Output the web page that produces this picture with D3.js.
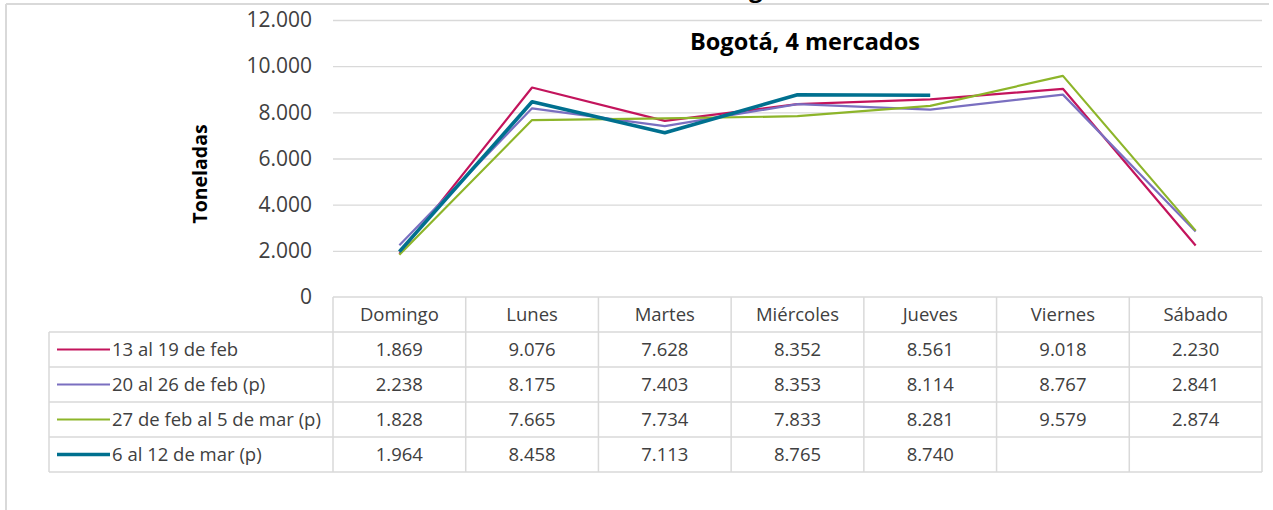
<!DOCTYPE html>
<html>
<head>
<meta charset="utf-8">
<script src="https://cdn.jsdelivr.net/npm/d3@7"></script>
<style>
  html, body { margin: 0; padding: 0; background: #fff; }
  svg { display: block; }
  text { font-family: "Open Sans", "Noto Sans", sans-serif; }
</style>
</head>
<body>
<svg id="chart" width="1273" height="510"></svg>
<script>
// ---- data ----
const categories = ["Domingo", "Lunes", "Martes", "Miércoles", "Jueves", "Viernes", "Sábado"];
const seriesNames = ["13 al 19 de feb", "20 al 26 de feb (p)", "27 de feb al 5 de mar (p)", "6 al 12 de mar (p)"];
const week1 = [1869, 9076, 7628, 8352, 8561, 9018, 2230];
const week2 = [2238, 8175, 7403, 8353, 8114, 8767, 2841];
const week3 = [1828, 7665, 7734, 7833, 8281, 9579, 2874];
const week4 = [1964, 8458, 7113, 8765, 8740, null, null];
const yTicks = [0, 2000, 4000, 6000, 8000, 10000, 12000];
const chartTitle = "Bogotá, 4 mercados";
const yTitle = "Toneladas";
const cutTitle = "Bogotá";

const seriesColors = ["#c3145c", "#7a6fc0", "#8db52a", "#00708f"];
const seriesWidths = [2.2, 2.2, 2.2, 3.6];
const seriesData = [week1, week2, week3, week4];

// ---- layout ----
const svg = d3.select("#chart");
const plotLeft = 333, plotRight = 1262, plotTop = 20, plotBottom = 297;
const tableLeft = 49, rowH = 35;
const tableFont = 18.5;

const locale = d3.formatLocale({decimal: ",", thousands: ".", grouping: [3], currency: ["$", ""]});
const fmt = locale.format(",");

const x = d3.scaleBand().domain(categories).range([plotLeft, plotRight]);
const y = d3.scaleLinear().domain([0, 12000]).range([plotBottom, plotTop]);

// outer frame (partial)
svg.append("line").attr("x1", 6).attr("x2", 1269).attr("y1", 4).attr("y2", 4)
  .attr("stroke", "#d9d9d9").attr("stroke-width", 2);
svg.append("line").attr("x1", 6).attr("x2", 6).attr("y1", 4).attr("y2", 510)
  .attr("stroke", "#d9d9d9").attr("stroke-width", 2);

// cut-off upper title (only its descender is visible, as in the source)
svg.append("text").attr("x", 718).attr("y", -3)
  .attr("font-size", 24).attr("font-weight", "bold").attr("fill", "#000").text(cutTitle);

// gridlines
svg.append("g")
  .attr("transform", `translate(${plotLeft},0)`)
  .call(d3.axisRight(y).tickValues(yTicks.filter(d => d > 0)).tickSize(plotRight - plotLeft).tickFormat(""))
  .call(g => g.select(".domain").remove())
  .call(g => g.selectAll("line").attr("stroke", "#d9d9d9").attr("stroke-width", 1.3));

// y axis labels
svg.append("g")
  .attr("transform", `translate(${plotLeft},0)`)
  .call(d3.axisLeft(y).tickValues(yTicks).tickSize(0).tickPadding(21).tickFormat(fmt))
  .call(g => g.select(".domain").remove())
  .call(g => g.selectAll("text").attr("font-size", 21).attr("fill", "#404040")
    .attr("font-family", "'Open Sans', sans-serif"));

// y title
svg.append("text")
  .attr("transform", "translate(207,174) rotate(-90)")
  .attr("text-anchor", "middle")
  .attr("font-size", 19.5).attr("font-weight", "bold").attr("fill", "#000")
  .text(yTitle);

// chart title
svg.append("text").attr("x", 805).attr("y", 50).attr("text-anchor", "middle")
  .attr("font-size", 23.5).attr("font-weight", "bold").attr("fill", "#000").text(chartTitle);

// lines
const line = d3.line()
  .defined(d => d != null)
  .x((d, i) => x(categories[i]) + x.bandwidth() / 2)
  .y(d => y(d));

seriesData.forEach((s, k) => {
  svg.append("path")
    .datum(s)
    .attr("d", line)
    .attr("fill", "none")
    .attr("stroke", seriesColors[k])
    .attr("stroke-width", seriesWidths[k])
    .attr("stroke-linejoin", "round");
});

// data table
const tbl = svg.append("g");
const gridColor = "#d9d9d9";
const nRows = seriesNames.length;
const tableBottom = plotBottom + rowH * (nRows + 1);

tbl.append("line").attr("x1", plotLeft).attr("x2", plotRight).attr("y1", plotBottom).attr("y2", plotBottom)
  .attr("stroke", gridColor).attr("stroke-width", 1.5);
d3.range(1, nRows + 2).forEach(r => {
  tbl.append("line").attr("x1", tableLeft).attr("x2", plotRight)
    .attr("y1", plotBottom + r * rowH).attr("y2", plotBottom + r * rowH)
    .attr("stroke", gridColor).attr("stroke-width", 1.5);
});
tbl.append("line").attr("x1", tableLeft).attr("x2", tableLeft)
  .attr("y1", plotBottom + rowH).attr("y2", tableBottom).attr("stroke", gridColor).attr("stroke-width", 1.5);
categories.forEach(c => {
  tbl.append("line").attr("x1", x(c)).attr("x2", x(c)).attr("y1", plotBottom).attr("y2", tableBottom)
    .attr("stroke", gridColor).attr("stroke-width", 1.5);
});
tbl.append("line").attr("x1", plotRight).attr("x2", plotRight).attr("y1", plotBottom).attr("y2", tableBottom)
  .attr("stroke", gridColor).attr("stroke-width", 1.5);

// header
tbl.selectAll("text.hdr").data(categories).enter().append("text")
  .attr("class", "hdr")
  .attr("x", d => x(d) + x.bandwidth() / 2)
  .attr("y", plotBottom + rowH / 2 + 6.5)
  .attr("text-anchor", "middle")
  .attr("font-size", tableFont).attr("fill", "#404040")
  .text(d => d);

// rows
seriesData.forEach((s, k) => {
  const cy = plotBottom + rowH * (k + 1) + rowH / 2;
  tbl.append("line").attr("x1", 57).attr("x2", 110).attr("y1", cy).attr("y2", cy)
    .attr("stroke", seriesColors[k]).attr("stroke-width", seriesWidths[k]);
  tbl.append("text").attr("x", 112).attr("y", cy + 6.5)
    .attr("font-size", tableFont).attr("fill", "#404040").text(seriesNames[k]);
  tbl.selectAll(null).data(s).enter().append("text")
    .attr("x", (d, i) => x(categories[i]) + x.bandwidth() / 2)
    .attr("y", cy + 6.5)
    .attr("text-anchor", "middle")
    .attr("font-size", tableFont).attr("fill", "#404040")
    .text(d => d == null ? "" : fmt(d));
});
</script>
</body>
</html>
